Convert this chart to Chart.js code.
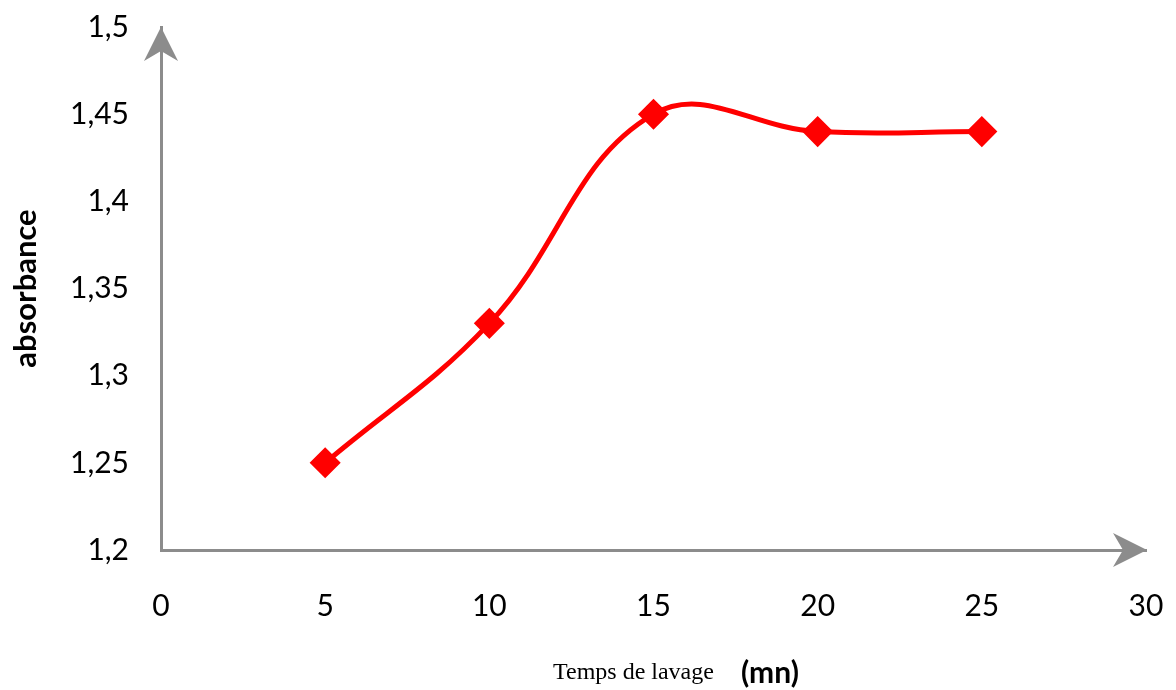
<!DOCTYPE html>
<html>
<head>
<meta charset="utf-8">
<script src="https://cdn.jsdelivr.net/npm/chart.js@4/dist/chart.umd.min.js"></script>
<style>
  body { margin: 0; background: #fff; }
</style>
</head>
<body>
<canvas id="myChart" width="1176" height="690"></canvas>
<script>
// data
const temps = [5, 10, 15, 20, 25];
const absorbance = [1.25, 1.33, 1.45, 1.44, 1.44];
const xTickLabels = ['0', '5', '10', '15', '20', '25', '30'];
const yTickLabels = ['1,2', '1,25', '1,3', '1,35', '1,4', '1,45', '1,5'];

const axisGray = '#8c8c8c';

// arrow heads at the end of both axes + the mixed-font x title
const axisExtras = {
  id: 'axisExtras',
  afterDraw(chart) {
    const ctx = chart.ctx;
    const a = chart.chartArea;
    const x0 = chart.scales.x.left;
    const y0 = chart.scales.y.bottom;
    ctx.save();
    ctx.fillStyle = axisGray;
    // y arrow
    ctx.beginPath();
    ctx.moveTo(x0, a.top);
    ctx.lineTo(x0 + 17, a.top + 34);
    ctx.lineTo(x0, a.top + 24);
    ctx.lineTo(x0 - 17, a.top + 34);
    ctx.closePath();
    ctx.fill();
    // x arrow
    ctx.beginPath();
    ctx.moveTo(a.right + 1, y0);
    ctx.lineTo(a.right - 33, y0 - 17);
    ctx.lineTo(a.right - 23, y0);
    ctx.lineTo(a.right - 33, y0 + 17);
    ctx.closePath();
    ctx.fill();

    // x title
    ctx.fillStyle = '#000';
    ctx.textBaseline = 'alphabetic';
    ctx.textAlign = 'left';
    ctx.font = '24px "Liberation Serif"';
    ctx.fillText('Temps de lavage', 553, 679);
    ctx.font = 'bold 30px Lato';
    ctx.fillText('(mn)', 741, 683);
    ctx.restore();
  }
};

// keep chart.js from adding its own room for the edge labels
function noEdgePadding(scale) {
  scale.paddingTop = 0;
  scale.paddingBottom = 0;
  scale.paddingLeft = 0;
  scale.paddingRight = 0;
}

const data = {
  datasets: [{
    label: 'absorbance',
    data: temps.map((t, i) => ({ x: t, y: absorbance[i] })),
    borderColor: '#ff0000',
    backgroundColor: '#ff0000',
    borderWidth: 5,
    tension: 0.4,
    pointStyle: 'rectRot',
    pointRadius: 12,
    pointHoverRadius: 12,
    clip: false
  }]
};

const config = {
  type: 'line',
  data: data,
  options: {
    responsive: false,
    animation: false,
    layout: {
      padding: { left: 0, right: 30, top: 27, bottom: 0 }
    },
    plugins: {
      legend: { display: false },
      tooltip: { enabled: false }
    },
    scales: {
      x: {
        type: 'linear',
        min: 0,
        max: 30,
        grid: { display: false, drawTicks: false },
        border: { display: true, color: axisGray, width: 3 },
        ticks: {
          stepSize: 5,
          padding: 38,
          color: '#000',
          font: { family: 'Lato', size: 30 },
          callback: (v, i) => xTickLabels[i]
        },
        afterFit: (scale) => { scale.height = 140; noEdgePadding(scale); }
      },
      y: {
        min: 1.2,
        max: 1.5,
        grid: { display: false, drawTicks: false },
        border: { display: true, color: axisGray, width: 3 },
        ticks: {
          stepSize: 0.05,
          padding: 32,
          color: '#000',
          font: { family: 'Lato', size: 30 },
          callback: (v, i) => yTickLabels[i]
        },
        title: {
          display: true,
          text: 'absorbance',
          color: '#000',
          font: { family: 'Lato', size: 31, weight: 'bold' },
          padding: { top: 7, bottom: 4 }
        },
        afterFit: (scale) => { scale.width = 161; noEdgePadding(scale); }
      }
    }
  },
  plugins: [axisExtras]
};

var myChart = new Chart(document.getElementById('myChart'), config);
</script>
</body>
</html>
